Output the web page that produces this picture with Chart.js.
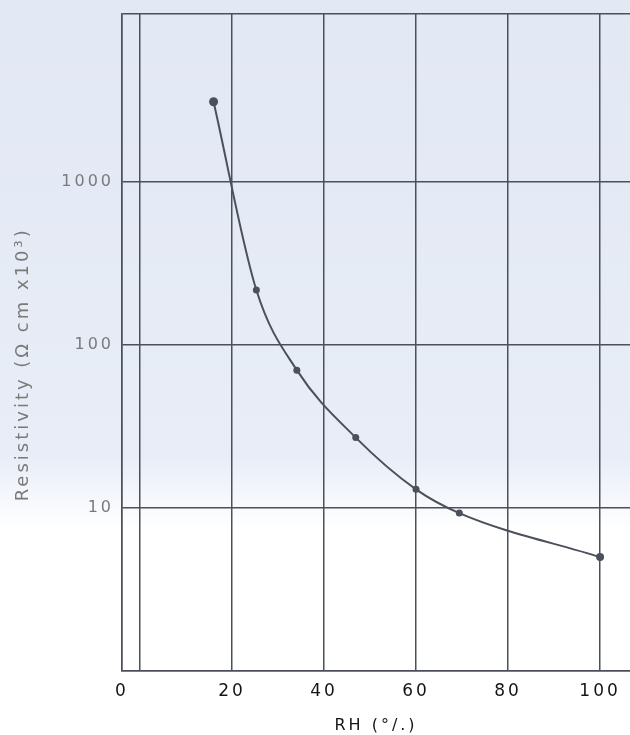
<!DOCTYPE html>
<html>
<head>
<meta charset="utf-8">
<script src="https://cdn.jsdelivr.net/npm/chart.js"></script>
<style>
  html, body { margin: 0; padding: 0; background: #fff; }
  #wrap { width: 630px; height: 735px; }
</style>
</head>
<body>
<div id="wrap"><canvas id="rhChart" width="630" height="735"></canvas></div>
<script>
// valores
const rhValues = [16, 25.3, 34.1, 46.9, 60, 69.4, 100];
const resistivity = [3100, 217, 70, 27, 13, 9.3, 5.0];
const pointSizes = [4.5, 3.5, 3.5, 3.5, 3.5, 3.5, 4];
const xTicks = [0, 20, 40, 60, 80, 100];
const yTicks = [10, 100, 1000];
const xMin = -3.9, xMax = 106.5;
const yMin = 1, yMax = 10700;

const lineColor = '#4b505b';

// fundo azul claro como no papel digitalizado
const fundo = {
    id: 'fundo',
    beforeDraw(chart) {
        const ctx = chart.ctx;
        const g = ctx.createLinearGradient(0, 0, 0, chart.height);
        g.addColorStop(0, '#e2e8f4');
        g.addColorStop(0.62, '#e8edf7');
        g.addColorStop(0.72, '#ffffff');
        g.addColorStop(1, '#ffffff');
        ctx.save();
        ctx.fillStyle = g;
        ctx.fillRect(0, 0, chart.width, chart.height);
        ctx.restore();
        // letras espaçadas como na figura original
        ctx.letterSpacing = '3px';
    }
};

const ctx = document.getElementById('rhChart').getContext('2d');
new Chart(ctx, {
    type: 'line',
    data: {
        datasets: [{
            data: rhValues.map((x, i) => ({ x: x, y: resistivity[i] })),
            borderColor: lineColor,
            backgroundColor: lineColor,
            borderWidth: 2,
            pointRadius: pointSizes,
            pointBorderWidth: 0,
            cubicInterpolationMode: 'monotone',
            fill: false
        }]
    },
    options: {
        responsive: false,
        animation: false,
        layout: { autoPadding: false, padding: { top: 14, right: 0, left: 0, bottom: 0 } },
        plugins: {
            legend: { display: false },
            tooltip: { enabled: false }
        },
        scales: {
            x: {
                type: 'linear',
                min: xMin,
                max: xMax,
                afterBuildTicks: scale => {
                    scale.ticks = [{ value: xMin }].concat(xTicks.map(v => ({ value: v })));
                },
                afterFit: scale => {
                    scale.height = 64;
                    scale.paddingLeft = 0;
                    scale.paddingRight = 0;
                },
                grid: { color: lineColor, lineWidth: 1.5, drawTicks: false },
                border: { color: lineColor, width: 1.5 },
                ticks: {
                    padding: 10,
                    color: '#151515',
                    font: { family: 'DejaVu Sans', size: 17 },
                    callback: function(v) {
                        if (v === xMin) return '0';
                        if (v === 0) return '';
                        return String(v);
                    }
                },
                title: {
                    display: true,
                    text: 'RH (°/.)',
                    color: '#151515',
                    font: { family: 'DejaVu Sans', size: 16 },
                    padding: { top: 2, bottom: 0 }
                }
            },
            y: {
                type: 'logarithmic',
                min: yMin,
                max: yMax,
                afterBuildTicks: scale => {
                    scale.ticks = [yMin].concat(yTicks, [yMax]).map(v => ({ value: v, major: true }));
                },
                afterFit: scale => {
                    scale.width = 122;
                    scale.paddingTop = 0;
                    scale.paddingBottom = 0;
                },
                grid: { color: lineColor, lineWidth: 1.5, drawTicks: false },
                border: { color: lineColor, width: 1.5 },
                ticks: {
                    padding: 8,
                    color: '#7a7a7a',
                    font: { family: 'DejaVu Sans', size: 16 },
                    callback: function(v) {
                        return yTicks.includes(v) ? String(v) : '';
                    }
                },
                title: {
                    display: true,
                    text: 'Resistivity (Ω cm x10³)     ',
                    color: '#7a7a7a',
                    font: { family: 'DejaVu Sans', size: 18 },
                    padding: { top: 13, bottom: 0 }
                }
            }
        }
    },
    plugins: [fundo]
});
</script>
</body>
</html>
